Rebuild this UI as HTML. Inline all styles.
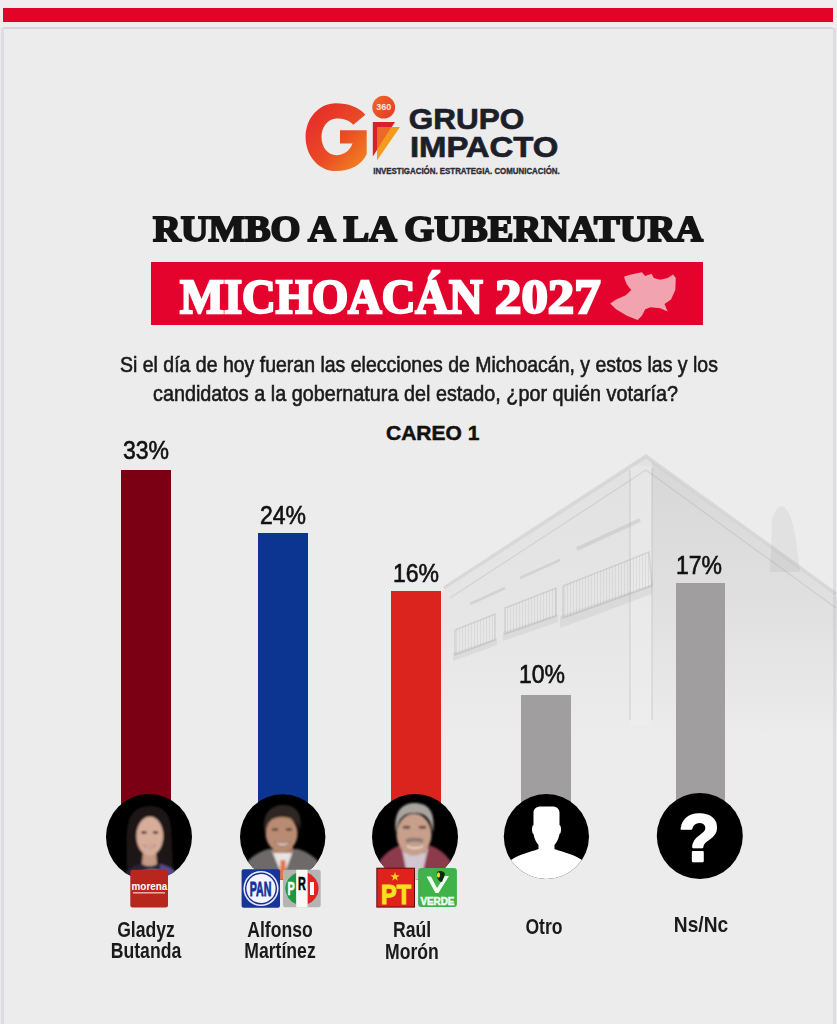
<!DOCTYPE html>
<html><head><meta charset="utf-8">
<style>
*{margin:0;padding:0;box-sizing:border-box}
html,body{width:837px;height:1024px;overflow:hidden}
body{position:relative;background:#edecec;font-family:"Liberation Sans",sans-serif;color:#161616}
.a{position:absolute}
.t{position:absolute;white-space:nowrap;line-height:1;transform-origin:0 0}
.bar{position:absolute;bottom:190px}
.pct{position:absolute;-webkit-text-stroke:0.6px #111;font-size:25px;line-height:1;white-space:nowrap;color:#111;transform:scaleX(0.92);transform-origin:50% 0;text-align:center;width:100px}
.nm{position:absolute;font-size:22px;line-height:21.6px;margin-top:2.1px;white-space:nowrap;color:#1a1a1a;transform:scaleX(0.8);transform-origin:50% 0;text-align:center;width:120px;font-weight:bold}
.circ{position:absolute;width:86px;height:86px;border-radius:50%;background:#000;overflow:hidden;top:794px}
</style></head><body>
<!-- top frame -->
<div class="a" style="left:0;top:0;width:837px;height:28px;background:#efeded"></div>
<div class="a" style="left:3px;top:8px;width:830px;height:14px;background:#e10328"></div>
<div class="a" style="left:3px;top:27px;width:830px;height:2px;background:#d6d6da"></div>
<div class="a" style="left:1px;top:28px;width:3px;height:996px;background:#dcdce2"></div>
<div class="a" style="left:833px;top:28px;width:3px;height:996px;background:#dcdce2"></div>

<!-- building -->
<svg class="a" style="left:0;top:0" width="837" height="820" viewBox="0 0 837 820">
<defs>
<linearGradient id="bf" x1="0" y1="457" x2="0" y2="740" gradientUnits="userSpaceOnUse"><stop offset="0" stop-color="#808080" stop-opacity="0.10"/><stop offset="0.55" stop-color="#808080" stop-opacity="0.06"/><stop offset="1" stop-color="#808080" stop-opacity="0"/></linearGradient>
<linearGradient id="bf2" x1="0" y1="457" x2="0" y2="740" gradientUnits="userSpaceOnUse"><stop offset="0" stop-color="#707070" stop-opacity="0.09"/><stop offset="1" stop-color="#707070" stop-opacity="0"/></linearGradient>
</defs>
<polygon points="442,592 646,457 837,596 837,740 442,740" fill="url(#bf)"/>
<polygon points="652,462 837,598 837,740 652,740" fill="url(#bf2)"/>
<rect x="630" y="466" width="22" height="260" fill="#f2f2f2" opacity="0.35"/>
<g fill="none" stroke="#8a8a8a" stroke-opacity="0.2">
<polyline points="444,588 646,456 836,594" stroke-width="3.5"/>
<polyline points="450,598 646,470 836,608" stroke-width="1.2"/>
<line x1="630" y1="470" x2="630" y2="720" stroke-width="1.5"/>
<line x1="652" y1="468" x2="652" y2="720" stroke-width="1.5"/>
<line x1="577" y1="549" x2="640" y2="520" stroke-width="4"/>
<line x1="520" y1="578" x2="560" y2="560" stroke-width="2.5"/>
<line x1="470" y1="604" x2="505" y2="588" stroke-width="2.5"/>
</g>
<pattern id="rail" width="3" height="6" patternUnits="userSpaceOnUse"><rect width="1" height="6" fill="#707070" fill-opacity="0.11"/></pattern>
<g stroke="#808080" stroke-opacity="0.2" stroke-width="1.5">
<polygon points="563,586 649,552 652,586 563,618" fill="url(#rail)"/>
<polygon points="505,608 556,588 556,616 505,634" fill="url(#rail)"/>
<polygon points="455,630 495,614 495,640 455,655" fill="url(#rail)"/>
</g>
<g fill="#808080" fill-opacity="0.12" stroke="none">
<polygon points="560,616 652,584 652,594 560,628"/>
<polygon points="503,632 558,614 558,622 503,641"/>
<polygon points="453,653 497,638 497,645 453,661"/>
<path d="M770 572 L772 530 C770 520 776 506 782 506 C790 510 792 520 796 540 L800 572 Z" fill-opacity="0.1"/>
</g>
</svg>
<!-- logo placeholder -->
<svg class="a" style="left:300px;top:90px" width="270" height="90" viewBox="0 0 270 90">
<defs>
<linearGradient id="gG" x1="0" y1="0" x2="1" y2="1"><stop offset="0" stop-color="#e5252b"/><stop offset="0.55" stop-color="#ea4a26"/><stop offset="1" stop-color="#f38d1e"/></linearGradient>
<linearGradient id="g360" x1="0" y1="0" x2="1" y2="1"><stop offset="0" stop-color="#f0692a"/><stop offset="1" stop-color="#e23a25"/></linearGradient>
</defs>
<path d="M65.4 24.8 C59 17 48 13.2 36 13.2 C19 13.2 5.6 28 5.6 47.2 C5.6 66 19 81.1 36 81.1 C50 81.1 62 75 66.7 64 L66.7 40.3 L40 40.3 L40 53.6 L52.5 53.6 C50 60.5 44 65.2 36.5 65.2 C27.5 65.2 21.5 57 21.5 47 C21.5 37 28 28.6 36.5 28.6 C43.5 28.6 49.5 30.5 53.3 34.7 Z" fill="url(#gG)"/>
<circle cx="83.7" cy="17.2" r="11.4" fill="url(#g360)"/>
<text x="83.7" y="20.4" font-family="Liberation Sans" font-weight="bold" font-size="9" fill="#fde6dc" text-anchor="middle">360</text>
<polygon points="72.8,32 95,32 72.8,66.5" fill="#da1f2b"/>
<polygon points="77,37 100,37 77,70.5" fill="#f29b1f"/>
<polygon points="77,37 91.5,37 77,59.5" fill="#ec6a25"/>
<text x="108.8" y="39.3" font-family="Liberation Sans" font-weight="bold" font-size="29.5" fill="#1c1f29" stroke="#1c1f29" stroke-width="0.7" textLength="115.5" lengthAdjust="spacingAndGlyphs">GRUPO</text>
<text x="109.9" y="66.5" font-family="Liberation Sans" font-weight="bold" font-size="29.5" fill="#1c1f29" stroke="#1c1f29" stroke-width="0.7" textLength="148.5" lengthAdjust="spacingAndGlyphs">IMPACTO</text>
<text x="73.2" y="84.3" font-family="Liberation Sans" font-weight="bold" font-size="8.6" fill="#2a2d36" stroke="#2a2d36" stroke-width="0.35" textLength="186.5" lengthAdjust="spacingAndGlyphs">INVESTIGACIÓN. ESTRATEGIA. COMUNICACIÓN.</text>
</svg>

<div id="h1" class="t" style="left:152.5px;top:212px;font-size:35px;font-weight:bold;font-family:'Liberation Serif',serif;-webkit-text-stroke:1.9px #141414;color:#141414;transform:scaleX(1.1)">RUMBO A LA GUBERNATURA</div>
<div class="a" style="left:151px;top:261.5px;width:552px;height:63.3px;background:#e4032c"></div>
<div id="m1" class="t" style="left:179.5px;top:273px;font-size:48px;font-weight:bold;color:#fff;-webkit-text-stroke:2.4px #fff;font-family:'Liberation Serif',serif;transform:scaleX(0.97)">MICHOACÁN</div>
<div id="m2" class="t" style="left:495px;top:273px;font-size:48px;font-weight:bold;color:#fff;-webkit-text-stroke:2.4px #fff;font-family:'Liberation Serif',serif;transform:scaleX(1.1)">2027</div>
<svg class="a" style="left:0;top:0" width="837" height="340"><polygon fill="#f2a3b0" points="624.2,276.5 631.2,274.4 641.9,272.2 645.2,276 651.6,273.8 653.8,278.1 660.2,279.7 667.7,278.1 673.1,274.4 675.8,278.1 675.3,289.9 671,299.6 664.5,303.9 667.7,311.5 660.2,308.2 650.5,307.2 645.2,309.3 641.9,315.8 637.6,320.1 626.9,315.8 616.1,309.3 610.2,303.4 616.1,299.6 625.8,295.3 631.2,290 626.9,284.6 624.7,279.2"/></svg>

<div id="q1" class="t" style="left:120px;top:353.9px;font-size:22.5px;transform:scaleX(0.866);-webkit-text-stroke:0.6px #1a1a1a;color:#1a1a1a">Si el día de hoy fueran las elecciones de Michoacán, y estos las y los</div>
<div id="q2" class="t" style="left:153px;top:383px;font-size:22.5px;transform:scaleX(0.88);-webkit-text-stroke:0.6px #1a1a1a;color:#1a1a1a">candidatos a la gobernatura del estado, ¿por quién votaría?</div>
<div id="c1" class="t" style="left:386px;top:422.3px;font-size:21px;font-weight:bold;-webkit-text-stroke:0.5px #111;color:#111">CAREO 1</div>

<!-- bars -->
<div class="a" style="left:121px;top:469.5px;width:50px;height:340px;background:#7b0013"></div>
<div class="a" style="left:258px;top:532.5px;width:50px;height:280px;background:#0b3591"></div>
<div class="a" style="left:391px;top:590.5px;width:50px;height:220px;background:#dc241f"></div>
<div class="a" style="left:521px;top:695px;width:50px;height:120px;background:#a09e9f"></div>
<div class="a" style="left:676px;top:583px;width:49px;height:230px;background:#a09e9f"></div>

<div class="pct" style="left:96px;top:437.5px">33%</div>
<div class="pct" style="left:233px;top:502.8px">24%</div>
<div class="pct" style="left:366px;top:561.2px">16%</div>
<div class="pct" style="left:492px;top:662px">10%</div>
<div class="pct" style="left:649px;top:553px">17%</div>

<!-- circles -->
<svg class="a" style="left:0;top:780px" width="837" height="140" viewBox="0 780 837 140">
<defs>
<filter id="bl" x="-10%" y="-10%" width="120%" height="120%"><feGaussianBlur stdDeviation="0.9"/></filter>
<clipPath id="ph1"><circle cx="149" cy="837" r="43"/></clipPath>
<clipPath id="ph2"><circle cx="282.7" cy="837" r="42.7"/></clipPath>
<clipPath id="ph3"><circle cx="415" cy="837" r="43"/></clipPath>
<clipPath id="ph4"><circle cx="546.4" cy="836.5" r="42.6"/></clipPath>
</defs>
<!-- photo 1 -->
<circle cx="149" cy="837" r="43" fill="#000"/>
<g clip-path="url(#ph1)" filter="url(#bl)">
<path d="M127 884 C127 855 125 832 129 820 C133 809 141 806 150 806 C160 806 167 810 170 821 C173 835 171 858 175 884 Z" fill="#1c1613"/>
<path d="M118 884 C122 872 132 866 142 863 L158 863 C168 865 178 870 184 884 Z" fill="#2a2430"/>
<path d="M160 864 C168 866 176 870 182 878 L184 884 L160 884 Z" fill="#5a4a86"/>
<path d="M134 876 C140 870 150 868 160 870 L156 884 L136 884 Z" fill="#8a8090"/>
<path d="M143 852 L156 852 L157 864 C153 867 146 867 142 864 Z" fill="#c49a86"/>
<ellipse cx="149.8" cy="836" rx="13.4" ry="19.5" fill="#d6ad99"/>
<path d="M136 833 C135 817 141 811 150 811 C158 811 164 817 164 830 C162 821 157 817 150 816 C143 817 138 823 136 833 Z" fill="#1c1613"/>
<ellipse cx="144" cy="832.5" rx="2.8" ry="1.3" fill="#3a2420"/>
<ellipse cx="155.5" cy="832.5" rx="2.8" ry="1.3" fill="#3a2420"/>
<path d="M143.5 845 C146 849 153 849 156 845 C153 846.5 146.5 846.5 143.5 845 Z" fill="#f2e6e6" stroke="#b06a6a" stroke-width="0.8"/>
</g>
<!-- photo 2 -->
<circle cx="282.7" cy="837" r="42.7" fill="#000"/>
<g clip-path="url(#ph2)" filter="url(#bl)">
<path d="M238 884 C241 864 252 854 268 849 L298 849 C314 854 324 864 328 884 Z" fill="#6d6a69"/>
<path d="M272 851 L293 851 L283 878 Z" fill="#e8e4e4"/>
<path d="M280.5 860 L285.5 860 L286.5 884 L279.5 884 Z" fill="#e07848"/>
<rect x="273" y="842" width="20" height="11" fill="#a87c66"/>
<ellipse cx="281.6" cy="833.5" rx="16" ry="18.5" fill="#b98b72"/>
<path d="M264.5 832 C262 814 270 805 283 805 C296 805 303 813 300 831 C298 821 292 817 282 817 C272 817 267 822 264.5 832 Z" fill="#2e2824"/>
<rect x="272" y="828.5" width="6" height="2" fill="#4a3428"/>
<rect x="286" y="828.5" width="6" height="2" fill="#4a3428"/>
<path d="M274 842 C278 847 287 847 291 842 C287 843.5 278 843.5 274 842 Z" fill="#f0e4e0" stroke="#8a5a4a" stroke-width="0.8"/>
</g>
<!-- photo 3 -->
<circle cx="415" cy="837" r="43" fill="#000"/>
<g clip-path="url(#ph3)" filter="url(#bl)">
<path d="M371 884 C374 864 384 852 398 846 L432 846 C446 852 456 864 460 884 Z" fill="#8b3a4b"/>
<path d="M402 849 L428 849 L420 884 L409 884 Z" fill="#d2c6d0"/>
<rect x="404" y="844" width="22" height="9" fill="#b08270"/>
<ellipse cx="414" cy="834.5" rx="17.5" ry="21" fill="#c79f8a"/>
<path d="M396 833 C393 813 401 803 414.5 803 C428 803 436 811 433 833 C431 818 425 813 414.5 813 C404 813 398 818 396 833 Z" fill="#a9a49f"/>
<rect x="403" y="826" width="7" height="2.4" fill="#4a3430"/>
<rect x="419" y="826" width="7" height="2.4" fill="#4a3430"/>
<path d="M405 840 C409 837 420 837 424 840 L422 843 C418 841 411 841 407 843 Z" fill="#8a7a74"/>
<path d="M407 846 C411 849 419 849 423 846" fill="none" stroke="#f0e8e4" stroke-width="1.5"/>
</g>
<!-- otro -->
<circle cx="546.4" cy="836.5" r="42.6" fill="#000"/>
<g clip-path="url(#ph4)">
<path d="M541 806.5 L552 806.5 C557 806.5 559.5 809 559.5 813 L559.5 825 C561.5 825 561.5 834 559.5 834 C558.5 840 556 843 554.5 845 L554.5 849 C563 852 575 855 582 860 C586 864 590 872 590 884 L502 884 C502 872 506 864 511 860 C518 855 530 852 538.5 849 L538.5 845 C537 843 534.5 840 533.5 834 C531.5 834 531.5 825 533.5 825 L533.5 813 C533.5 809 536 806.5 541 806.5 Z" fill="#fff"/>
</g>
<!-- ns/nc -->
<circle cx="699.8" cy="836" r="43" fill="#000"/>
<text x="699.3" y="861.3" font-family="Liberation Sans" font-weight="bold" font-size="67" fill="#fff" stroke="#fff" stroke-width="2.4" stroke-linejoin="round" text-anchor="middle">?</text>

<!-- morena -->
<rect x="130.3" y="869.7" width="37.7" height="37.9" rx="2.5" fill="#b8261d"/>
<text x="131.6" y="889.8" font-family="Liberation Sans" font-weight="bold" font-size="11.5" fill="#fff" textLength="35.6" lengthAdjust="spacingAndGlyphs">morena</text>
<rect x="133" y="892" width="32" height="1.6" fill="#e8a8a0"/>
<!-- PAN -->
<rect x="241.6" y="869.3" width="38.4" height="38.5" rx="2" fill="#15359a"/>
<circle cx="261" cy="888.5" r="17.6" fill="#e8ecff"/>
<circle cx="261" cy="888.5" r="16" fill="#1a2c8e"/>
<circle cx="261" cy="888.5" r="14.6" fill="#f2f4ff"/>
<text x="249.8" y="896.3" font-family="Liberation Sans" font-weight="bold" font-size="21" fill="#15309a" stroke="#15309a" stroke-width="0.9" textLength="21.6" lengthAdjust="spacingAndGlyphs">PAN</text>
<!-- PRI -->
<rect x="283" y="869.8" width="37.7" height="37.4" rx="2.5" fill="#b4b4b4"/>
<path d="M296.2 872.95 A16.6 16.6 0 0 0 296.2 904.05 Z" fill="#1a9a3e"/>
<path d="M307.5 872.84 A16.6 16.6 0 0 1 307.5 904.16 Z" fill="#e0241f"/>
<rect x="296.2" y="869.8" width="11.3" height="37.4" fill="#f8f8f6"/>
<text x="287.6" y="895" font-family="Liberation Sans" font-weight="bold" font-size="18" fill="#fff" stroke="#fff" stroke-width="0.6" textLength="7.2" lengthAdjust="spacingAndGlyphs">P</text>
<text x="298" y="889.6" font-family="Liberation Sans" font-weight="bold" font-size="18" fill="#000" stroke="#000" stroke-width="0.6" textLength="7.8" lengthAdjust="spacingAndGlyphs">R</text>
<rect x="310" y="882" width="4" height="13" fill="#fff"/>
<!-- PT -->
<rect x="376.3" y="867.7" width="38.7" height="39.9" fill="#5a0c0c"/>
<rect x="377.3" y="868.7" width="36.7" height="37.9" fill="#e0221c"/>
<polygon points="395,872 396.1,875.3 399.5,875.3 396.8,877.4 397.8,880.7 395,878.6 392.2,880.7 393.2,877.4 390.5,875.3 393.9,875.3" fill="#f6d21e"/>
<text x="381" y="903.6" font-family="Liberation Sans" font-weight="bold" font-size="27" fill="#f6e21c" stroke="#f6e21c" stroke-width="1.1" textLength="30" lengthAdjust="spacingAndGlyphs">PT</text>
<!-- VERDE -->
<rect x="418.1" y="868.1" width="38.8" height="38.8" rx="3" fill="#3fb34a"/>
<path d="M426.5 876.5 L431 876.5 L437 888 L445 876 L449 876 L438.5 893 L435.5 893 Z" fill="#f0fff0"/>
<path d="M437 872 C440 870 444 871 445 874 L442 882 C439 882 436 878 437 872 Z" fill="#0a2a10"/>
<ellipse cx="438.5" cy="875" rx="1.6" ry="2.8" fill="#e0e020"/>
<text x="420.4" y="904.6" font-family="Liberation Sans" font-weight="bold" font-size="11.5" fill="#f0fff0" stroke="#f0fff0" stroke-width="0.6" textLength="34" lengthAdjust="spacingAndGlyphs">VERDE</text>
</svg>
<div class="nm" style="left:86px;top:916.8px">Gladyz<br>Butanda</div>
<div class="nm" style="left:220px;top:916.8px">Alfonso<br>Martínez</div>
<div class="nm" style="left:352px;top:917px">Raúl<br>Morón</div>
<div class="nm" style="left:484px;top:914px">Otro</div>
<div class="nm" style="left:641px;top:911.5px;transform:scaleX(0.87)">Ns/Nc</div>
</body></html>
